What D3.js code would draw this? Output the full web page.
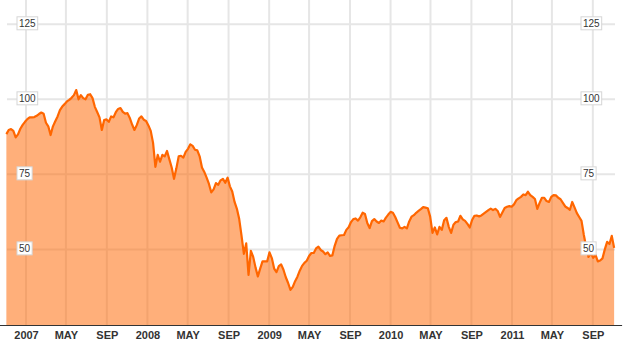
<!DOCTYPE html>
<html>
<head>
<meta charset="utf-8">
<script src="https://cdn.jsdelivr.net/npm/d3@7"></script>
<style>
  body { margin: 0; background: #fff; }
  svg { display: block; }
</style>
</head>
<body>
<svg id="chart"></svg>
<script>
// weekly closes (fridays)
const close2006 = [88.4, 89.8, 90.1, 89.5, 87.3, 88.3, 90.2, 91.5, 92.5];
const close2007 = [93.4, 94, 94, 94.1, 94.5, 95.1, 95.6, 95.2, 92.2, 91, 88.1, 91, 92.7, 94.3, 96.4, 97.6,
  98.4, 99.3, 99.8, 100.5, 101.4, 103.1, 100, 101.4, 100.4, 100, 101.5, 101.7, 100.4, 97.5, 95.8, 94,
  89.8, 93.1, 93.3, 92.5, 94.3, 94, 95.7, 96.8, 97.1, 95.8, 95.2, 95.4, 93.8, 91.6, 89.8, 91.4, 93.6,
  94.3, 93.2, 92.8];
const close2008 = [91.3, 89.5, 85.5, 77.5, 81.5, 79.2, 81.5, 81, 82.8, 80, 77.3, 73.5, 77, 81, 81.2, 80.6,
  82.5, 83.5, 85, 84.5, 83.2, 83, 81, 77.3, 75.8, 73.9, 71.8, 69, 70, 72.1, 71.5, 73, 73.5, 72.2, 73.9,
  71, 69.3, 65.8, 63.5, 60.1, 54.5, 48.5, 52, 41.5, 49.5, 47.5, 44, 41, 43.6, 46, 46, 46];
const close2009 = [49, 47.1, 43.6, 42.4, 44.4, 45, 43.2, 40.7, 38.8, 36.5, 37.5, 39.4, 40.9, 42.9, 44.5,
  45.5, 46.2, 47.8, 48.8, 48.8, 50.3, 50.9, 49.8, 49.3, 48.4, 49, 47.8, 48, 51.2, 53.5, 54.6, 54.7, 54.8,
  56.5, 57.4, 59.1, 60.1, 60.3, 59.6, 60.7, 62.2, 61.8, 58.8, 57.1, 59.4, 60.1, 59.3, 58.8, 59.6, 59.3,
  60.6, 61.6];
const close2010 = [62.5, 62.2, 60.8, 59, 57.2, 57, 57.5, 57, 59.3, 60.9, 61.4, 62.2, 62.8, 63.4, 64.1, 63.9,
  63.7, 60.9, 55.5, 57.3, 55, 57.5, 56.5, 59.7, 60.5, 57.5, 55.5, 58.2, 59.1, 59.3, 61.2, 60, 59.5, 58.5,
  57.3, 59.8, 61.2, 61.3, 61, 61.3, 61.9, 62.5, 63.1, 63.6, 63.1, 63.5, 62.8, 60.8, 62.3, 63.8, 64.2,
  64.4, 64.2];
const close2011 = [65, 66.4, 67, 67.5, 68.3, 68.1, 69.2, 68.1, 67.5, 66.8, 63.5, 65.5, 67.2, 67.2, 66.1,
  65.8, 67.5, 68.1, 68, 67.2, 66.7, 65.5, 64.3, 63.8, 63.2, 65.8, 64, 62.1, 60.8, 59.5, 54.8, 50.8, 47.5,
  48.8, 47.2, 48.2, 46, 46.3, 47, 50, 52.5, 51.8, 54.5, 50.5];

const firstFriday = new Date(2006, 10, 3);
const yTicks = [50, 75, 100, 125];

const width = 629, height = 341;
const svg = d3.select("#chart").attr("width", width).attr("height", height);

const closes = [].concat(close2006, close2007, close2008, close2009, close2010, close2011);
const data = closes.map((v, i) => ({ date: d3.timeDay.offset(firstFriday, 7 * i), value: v }));

const x = d3.scaleTime()
  .domain([new Date(2006, 10, 1), new Date(2011, 11, 1)])
  .range([5.7, 623.1]);
const y = d3.scaleLinear()
  .domain([24.8, 133.1])
  .range([325, 0]);

const gridLeft = 7, gridRight = 615;

// grid
const grid = svg.append("g").attr("stroke", "#e6e6e6").attr("stroke-width", 2);
grid.selectAll("line.h")
  .data(yTicks)
  .join("line")
  .attr("class", "h")
  .attr("x1", gridLeft).attr("x2", gridRight)
  .attr("y1", d => y(d)).attr("y2", d => y(d));

const xTicks = x.ticks(d3.timeMonth.every(4));
grid.selectAll("line.v")
  .data(xTicks)
  .join("line")
  .attr("class", "v")
  .attr("x1", d => x(d)).attr("x2", d => x(d))
  .attr("y1", 0).attr("y2", 325);

// area + line
const area = d3.area()
  .x(d => x(d.date))
  .y0(325)
  .y1(d => y(d.value));
const line = d3.line()
  .x(d => x(d.date))
  .y(d => y(d.value));

svg.append("path")
  .datum(data)
  .attr("d", area)
  .attr("fill", "#ff6600")
  .attr("fill-opacity", 0.52);

svg.append("path")
  .datum(data)
  .attr("d", line)
  .attr("fill", "none")
  .attr("stroke", "#ff6600")
  .attr("stroke-width", 2.2)
  .attr("stroke-linejoin", "round");

// bottom axis
const xAxis = d3.axisBottom(x)
  .tickValues(xTicks)
  .tickSize(0)
  .tickPadding(6)
  .tickFormat(d => d.getMonth() === 0 ? d3.timeFormat("%Y")(d) : d3.timeFormat("%b")(d).toUpperCase());

const gx = svg.append("g")
  .attr("transform", "translate(0,325)")
  .call(xAxis);
gx.select(".domain").remove();
gx.selectAll("text")
  .attr("fill", "#333")
  .style("font-family", "'Liberation Sans Narrow', 'Arial Narrow', 'Liberation Sans', Arial, sans-serif")
  .style("font-weight", "bold")
  .style("font-size", "11px");

svg.append("line")
  .attr("x1", 0).attr("x2", x.range()[1] - 1)
  .attr("y1", 325.5).attr("y2", 325.5)
  .attr("stroke", "#333")
  .attr("stroke-width", 1.2);

// value labels in boxes, both sides
function labels(left) {
  const g = svg.append("g");
  yTicks.forEach(v => {
    const lg = g.append("g").attr("transform", `translate(${left},${y(v) - 1})`);
    const rect = lg.append("rect");
    const t = lg.append("text")
      .attr("x", 2.5)
      .attr("y", 3.6)
      .attr("fill", "#333")
      .style("font-family", "'Liberation Sans', Arial, sans-serif")
      .style("font-size", "10px")
      .text(v);
    const w = t.node().getComputedTextLength();
    rect.attr("x", 0.5).attr("y", -6.5)
      .attr("width", w + 4)
      .attr("height", 13)
      .attr("fill", "#fff")
      .attr("stroke", "#d6d6d6")
      .attr("stroke-width", 1);
  });
}
labels(16.5);
labels(580.5);
</script>
</body>
</html>
